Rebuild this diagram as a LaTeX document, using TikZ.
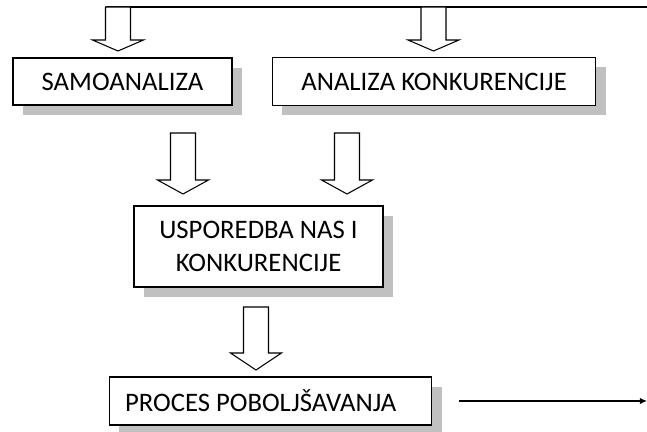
\documentclass[tikz,border=0pt]{standalone}
\usepackage{fontspec}
\setmainfont{Carlito}
\usetikzlibrary{arrows.meta, shadows}
\definecolor{shadowgray}{RGB}{192,192,192}
\tikzset{
  box/.style={draw, fill=white, line width=0.6pt, inner sep=0pt, align=center,
    font=\fontsize{15.2}{18.4}\selectfont,
    general shadow={fill=shadowgray, shadow xshift=0.2cm, shadow yshift=-0.2cm}},
  pics/blockarrow/.style 2 args={code={
    \draw[line width=0.6pt, fill=white] (-12.5,0) -- (-12.5,#1) -- (-25.5,#1)
      -- (0,#1+#2) -- (25.5,#1) -- (12.5,#1) -- (12.5,0) -- cycle;
  }}
}

\begin{document}
\begin{tikzpicture}[x=0.02cm, y=-0.02cm]
   \useasboundingbox (0,0) rectangle (647,432);
   % feedback line along the top
   \coordinate (topstart) at (106,7);
   \coordinate (topend) at (647,7);
   \draw[line width=0.6pt] (topstart) -- (topend);

   \node[box, minimum width=4.38cm, minimum height=0.94cm] (samo) at (122.5,81.5) {SAMOANALIZA};
   \node[box, minimum width=6.48cm, minimum height=0.96cm] (analiza) at (434,81.5) {ANALIZA KONKURENCIJE};
   \node[box, minimum width=4.98cm, minimum height=1.62cm] (usporedba) at (258.5,246.5) {USPOREDBA NAS I\\KONKURENCIJE};
   \node[box, align=flush left, text width=5.82cm, minimum width=6.46cm, minimum height=0.96cm] (proces) at (270.5,401) {PROCES POBOLJŠAVANJA};

   \pic at (118,7) {blockarrow={33}{11}};
   \pic at (433.5,7) {blockarrow={33}{11}};
   \pic at (183,133) {blockarrow={47}{14}};
   \pic at (347,133) {blockarrow={47}{14}};
   \pic at (256,307) {blockarrow={46}{17}};

   \coordinate (outstart) at (459,401);
   \coordinate (outend) at (647,401);
   \draw[line width=0.6pt, -{Latex[length=4pt, width=3.5pt]}] (outstart) -- (outend);
\end{tikzpicture}
\end{document}
